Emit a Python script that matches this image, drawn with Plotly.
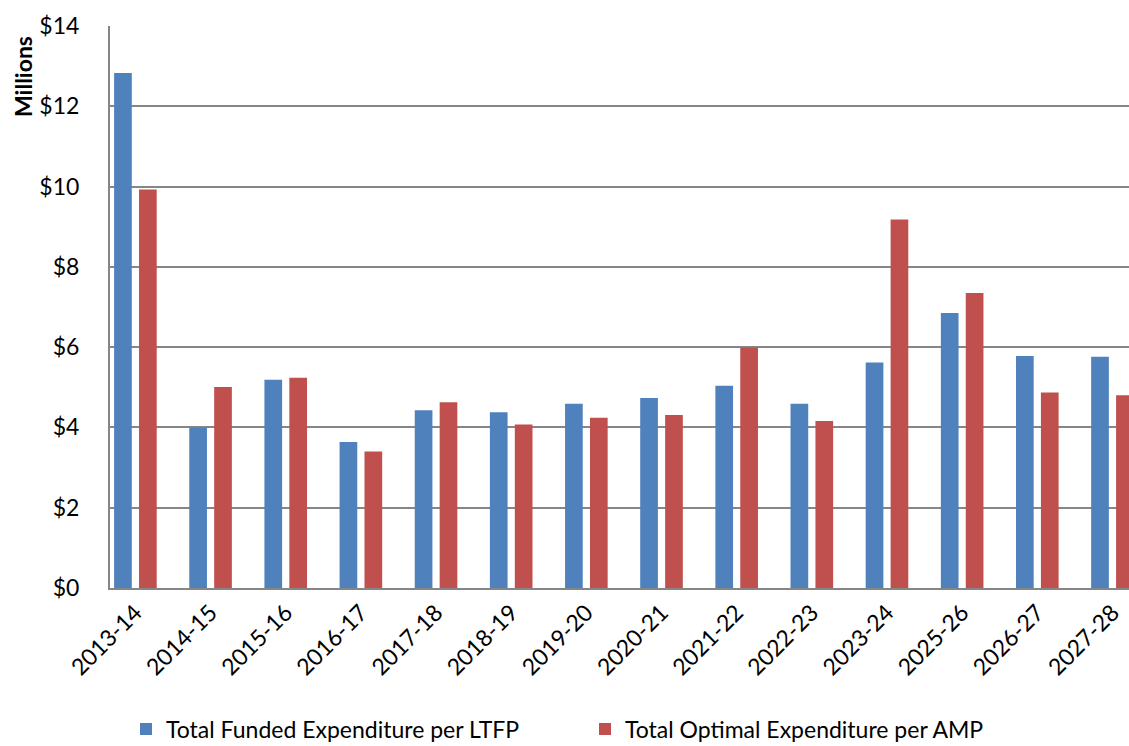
import plotly.graph_objects as go

# Financial years on the category axis
years = ["2013-14", "2014-15", "2015-16", "2016-17", "2017-18", "2018-19", "2019-20",
         "2020-21", "2021-22", "2022-23", "2023-24", "2025-26", "2026-27", "2027-28"]

# Expenditure in $ millions
funded_ltfp = [12.83, 4.00, 5.19, 3.64, 4.43, 4.38, 4.59, 4.73, 5.04, 4.59, 5.62, 6.85, 5.78, 5.76]
optimal_amp = [9.93, 5.01, 5.24, 3.40, 4.63, 4.07, 4.24, 4.31, 5.99, 4.16, 9.18, 7.35, 4.87, 4.80]

y_ticks = [0, 2, 4, 6, 8, 10, 12, 14]
y_tick_labels = ["$0", "$2", "$4", "$6", "$8", "$10", "$12", "$14"]

FONT = "Lato"
GRID = "#868686"

fig = go.Figure()
fig.add_trace(go.Bar(name="Total Funded Expenditure per LTFP", x=years, y=funded_ltfp,
                     marker=dict(color="#4F81BD", line=dict(width=0))))
fig.add_trace(go.Bar(name="Total Optimal Expenditure per AMP", x=years, y=optimal_amp,
                     marker=dict(color="#C0504D", line=dict(width=0))))

fig.update_layout(
    width=1129, height=746,
    margin=dict(l=110, r=0, t=26, b=158, autoexpand=False),
    paper_bgcolor="white", plot_bgcolor="white",
    barmode="group", bargap=0.337, bargroupgap=0.29,
    font=dict(family=FONT, size=23, color="black"),
    showlegend=True,
    legend=dict(orientation="h", x=(126 - 110) / 1019, xanchor="left",
                y=(588 - 729) / 562, yanchor="middle",
                font=dict(family=FONT, size=23, color="black"),
                entrywidth=414, entrywidthmode="pixels",
                bgcolor="rgba(0,0,0,0)"),
    xaxis=dict(type="category", range=[-0.338, 13.22], tickangle=-45, automargin=False,
               showline=True, linecolor=GRID, linewidth=2, showgrid=False,
               ticks="", tickfont=dict(family=FONT, size=23, color="black")),
    yaxis=dict(range=[0, 14], tickvals=y_ticks, ticktext=y_tick_labels, automargin=False,
               showgrid=True, gridcolor=GRID, gridwidth=1.5, zeroline=False,
               showline=True, linecolor=GRID, linewidth=2, ticks="",
               ticklabelstandoff=24,
               tickfont=dict(family=FONT, size=23, color="black")),
)

fig.add_annotation(text="<b>Millions</b>", textangle=-90, xref="paper", yref="paper",
                   x=-(110 - 23) / 1019, y=(588 - 77) / 562, xanchor="center", yanchor="middle",
                   showarrow=False, font=dict(family=FONT, size=23, color="black"))

fig.write_html("out.html")
